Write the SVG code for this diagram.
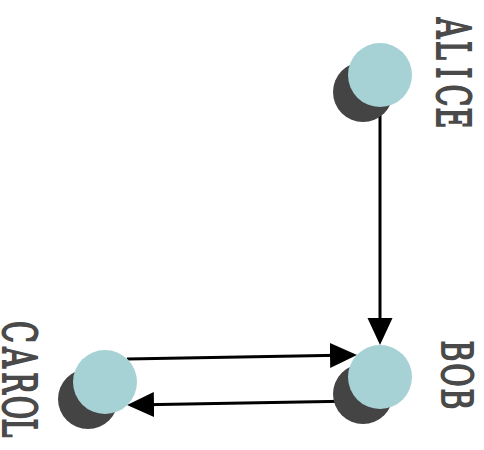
<svg xmlns="http://www.w3.org/2000/svg" width="484" height="450" viewBox="0 0 484 450">
  <style>
    .shadow { fill: #444444; }
    .disc { fill: #a6d2d6; }
    .label { font-family: "DejaVu Serif", serif; font-size: 30px; fill: #4a4a4a; stroke: #4a4a4a; stroke-width: 1.3px; text-anchor: middle; }
    .edge { stroke: #000; stroke-width: 3; fill: none; marker-end: url(#head); }
  </style>
  <defs>
    <marker id="head" markerUnits="userSpaceOnUse" markerWidth="28" markerHeight="26" refX="23" refY="12.5" orient="auto">
      <path d="M0,0 L27,12.5 L0,25 Z" fill="#000"/>
    </marker>
  </defs>

  <g id="connectors">
    <line class="edge" x1="380" y1="107" x2="380" y2="341"/>
    <line class="edge" x1="127" y1="359" x2="353" y2="355"/>
    <line class="edge" x1="357" y1="401" x2="131" y2="405"/>
  </g>

  <!-- labels run top-to-bottom, one fixed-width cell per letter -->
  <g id="alice">
    <circle class="shadow" cx="363" cy="92" r="30"/>
    <circle class="disc" cx="380" cy="75" r="32"/>
    <text class="label" transform="translate(437,0) rotate(90) scale(0.95,1.55)" x="29.5 53.2 76.8 100.5 124.2" y="0">ALICE</text>
  </g>

  <g id="bob">
    <circle class="shadow" cx="363" cy="394" r="30"/>
    <circle class="disc" cx="380" cy="377" r="32"/>
    <text class="label" transform="translate(442,0) rotate(90) scale(0.95,1.42)" x="369.5 394.7 420" y="0">BOB</text>
  </g>

  <g id="carol">
    <circle class="shadow" cx="88" cy="399" r="30"/>
    <circle class="disc" cx="105" cy="382" r="32"/>
    <text class="label" transform="translate(3,0) rotate(90) scale(0.95,1.55)" x="349.5 376.3 403.2 428.9 450.5" y="0">CAROL</text>
  </g>
</svg>
